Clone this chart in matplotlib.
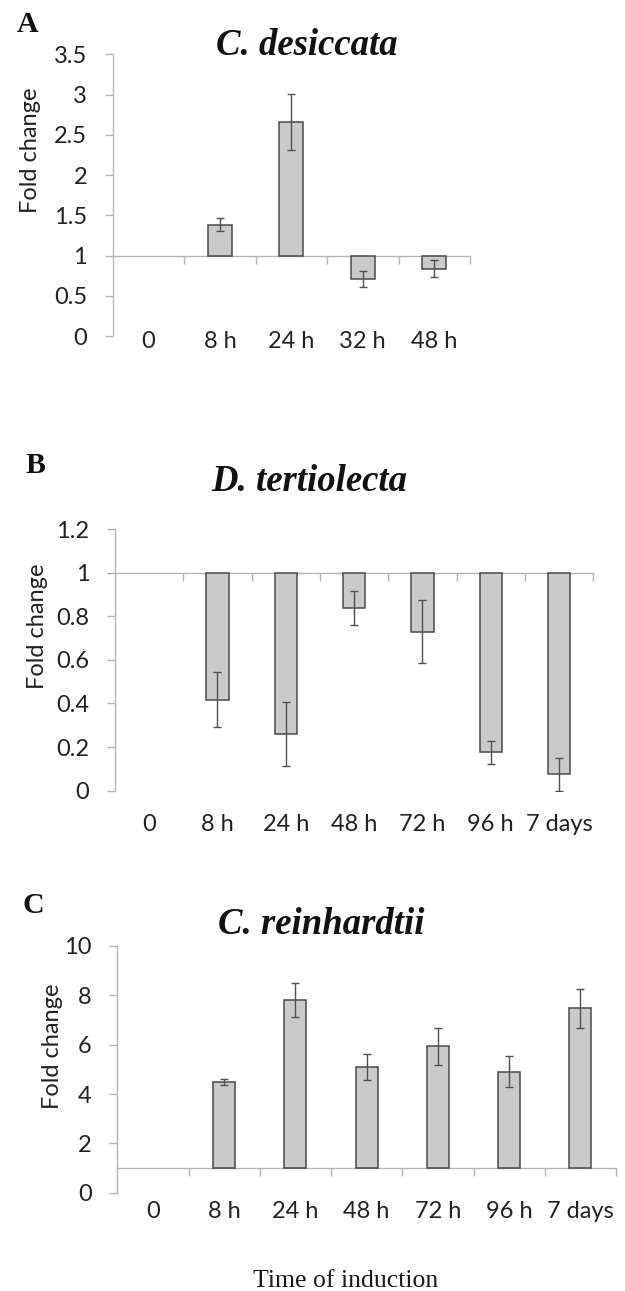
import numpy as np
import matplotlib
matplotlib.use("Agg")
import matplotlib.pyplot as plt

W, H = 625, 1291
DPI = 100

# ---------------- data ----------------
cats_a = ["0", "8 h", "24 h", "32 h", "48 h"]
vals_a = [np.nan, 1.38, 2.66, 0.71, 0.835]
errs_a = [np.nan, 0.08, 0.35, 0.095, 0.105]
yticks_a = [0, 0.5, 1, 1.5, 2, 2.5, 3, 3.5]
ylabels_a = ["0", "0.5", "1", "1.5", "2", "2.5", "3", "3.5"]

cats_b = ["0", "8 h", "24 h", "48 h", "72 h", "96 h", "7 days"]
vals_b = [np.nan, 0.418, 0.258, 0.837, 0.729, 0.176, 0.075]
errs_b = [np.nan, 0.125, 0.147, 0.078, 0.145, 0.053, 0.076]
yticks_b = [0, 0.2, 0.4, 0.6, 0.8, 1, 1.2]
ylabels_b = ["0", "0.2", "0.4", "0.6", "0.8", "1", "1.2"]

cats_c = ["0", "8 h", "24 h", "48 h", "72 h", "96 h", "7 days"]
vals_c = [np.nan, 4.49, 7.82, 5.10, 5.93, 4.91, 7.47]
errs_c = [np.nan, 0.13, 0.70, 0.52, 0.76, 0.62, 0.80]
yticks_c = [0, 2, 4, 6, 8, 10]
ylabels_c = ["0", "2", "4", "6", "8", "10"]

titles = ["C. desiccata", "D. tertiolecta", "C. reinhardtii"]
letters = ["A", "B", "C"]
xlabel = "Time of induction"
ylabel = "Fold change"
baseline = 1.0

# ---------------- style ----------------
SANS = ["Lato", "DejaVu Sans"]
SERIF = ["Liberation Serif", "DejaVu Serif"]
AXIS_COL = "#b4b4b4"
TXT_COL = "#222222"
BAR_FILL = "#cacaca"
BAR_EDGE = "#4a4a4a"
ERR_COL = "#505050"
FS = 17

fig = plt.figure(figsize=(W / DPI, H / DPI), dpi=DPI)


def rect(l, r, t, b):
    return [l / W, 1 - b / H, (r - l) / W, (b - t) / H]


panels = [
    dict(cats=cats_a, vals=vals_a, errs=errs_a, yt=yticks_a, yl=ylabels_a,
         box=(112.7, 470, 54.3, 336), ylim=(0, 3.5), bw=0.335,
         lab=(-0.229, 0.661), xpad=-3.5, title=(307, 55), letter=(27.5, 32.3)),
    dict(cats=cats_b, vals=vals_b, errs=errs_b, yt=yticks_b, yl=ylabels_b,
         box=(115, 593.3, 529, 790.7), ylim=(0, 1.2), bw=0.33,
         lab=(-0.163, 0.630), xpad=17, title=(309, 490.7), letter=(35, 473.3)),
    dict(cats=cats_c, vals=vals_c, errs=errs_c, yt=yticks_c, yl=ylabels_c,
         box=(117.3, 616, 946, 1192.7), ylim=(0, 10), bw=0.31,
         lab=(-0.130, 0.595), xpad=6, title=(321, 934), letter=(33, 913)),
]

for i, p in enumerate(panels):
    ax = fig.add_axes(rect(*p["box"]))
    n = len(p["cats"])
    x = np.arange(n)
    vals = np.array(p["vals"], dtype=float)
    errs = np.array(p["errs"], dtype=float)

    ax.bar(x, vals - baseline, bottom=baseline, width=p["bw"],
           color=BAR_FILL, edgecolor=BAR_EDGE, linewidth=1.1, zorder=3)
    ax.errorbar(x, vals, yerr=errs, fmt="none", ecolor=ERR_COL,
                elinewidth=1.0, capsize=3, capthick=1.0, zorder=4)

    ax.set_xlim(-0.5, n - 0.5)
    ax.set_ylim(*p["ylim"])

    for s in ("top", "right"):
        ax.spines[s].set_visible(False)
    ax.spines["left"].set_color(AXIS_COL)
    ax.spines["left"].set_linewidth(1.0)
    ax.spines["bottom"].set_position(("data", baseline))
    ax.spines["bottom"].set_color(AXIS_COL)
    ax.spines["bottom"].set_linewidth(1.0)
    ax.spines["bottom"].set_zorder(2)

    ax.set_yticks(p["yt"], p["yl"])
    ax.tick_params(axis="y", direction="out", length=6, width=1.0,
                   color=AXIS_COL, pad=12.5, labelsize=FS, labelcolor=TXT_COL)
    for t in ax.get_yticklabels():
        t.set_family(SANS)

    # category boundary ticks on the baseline
    ax.set_xticks(np.arange(0.5, n, 1.0))
    ax.tick_params(axis="x", direction="out", length=6, width=1.0,
                   color=AXIS_COL, labelbottom=False)

    # category labels at the bottom of the plot area
    sec = ax.secondary_xaxis("bottom")
    sec.set_xticks(x, p["cats"])
    sec.tick_params(axis="x", length=0, pad=p["xpad"], labelsize=FS,
                    labelcolor=TXT_COL)
    sec.spines["bottom"].set_visible(False)
    for t in sec.get_xticklabels():
        t.set_family(SANS)

    ax.set_ylabel(ylabel, fontsize=FS, color=TXT_COL, family=SANS)
    ax.yaxis.label.set_va("center")
    ax.yaxis.set_label_coords(*p["lab"])

    tx, ty = p["title"]
    fig.text(tx / W, 1 - ty / H, titles[i], ha="center", va="baseline",
             fontsize=26.5, fontweight="bold", fontstyle="italic",
             family=SERIF, color="#111111")
    lx, ly = p["letter"]
    fig.text(lx / W, 1 - ly / H, letters[i], ha="center", va="baseline",
             fontsize=21.5, fontweight="bold", family=SERIF, color="#111111")

fig.text(345.5 / W, 1 - 1287.3 / H, xlabel, ha="center", va="baseline",
         fontsize=18.5, family=SERIF, color="#1a1a1a")

fig.savefig("out.png", dpi=DPI)
